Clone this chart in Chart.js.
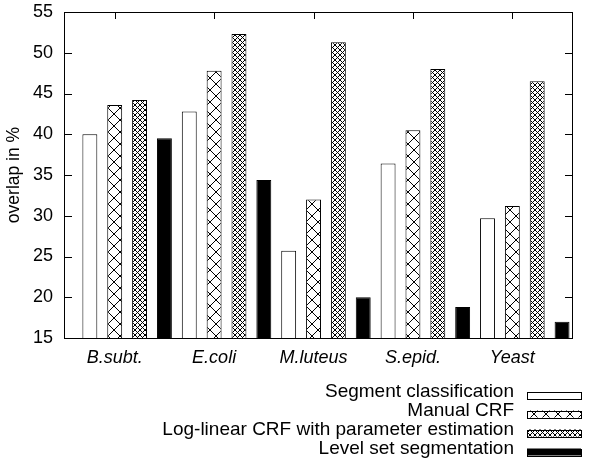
<!DOCTYPE html>
<html lang="en">
<head>
  <meta charset="UTF-8" />
  <title>Overlap per organism</title>
  <script src="https://cdn.jsdelivr.net/npm/chart.js"></script>
  <style>
    * { margin: 0; padding: 0; box-sizing: border-box; }
    body { background: #fff; width: 593px; height: 468px; overflow: hidden; }
    #wrap { position: relative; width: 593px; height: 468px; }
  </style>
</head>
<body>
  <div id="wrap"><canvas id="overlapChart"></canvas></div>

  <script>
    // categories and values (overlap in %)
    const organisms = ['B.subt.', 'E.coli', 'M.luteus', 'S.epid.', 'Yeast'];
    const segmentClassification = [40.0, 42.8, 25.7, 36.4, 29.7];
    const manualCrf = [43.6, 47.8, 32.0, 40.5, 31.2];
    const logLinearCrf = [44.2, 52.3, 51.3, 48.0, 46.5];
    const levelSet = [39.5, 34.4, 20.0, 18.8, 17.0];
    const seriesNames = [
      'Segment classification',
      'Manual CRF',
      'Log-linear CRF with parameter estimation',
      'Level set segmentation'
    ];
    const yTicks = [15, 20, 25, 30, 35, 40, 45, 50, 55];

    const FONT = "'Liberation Sans', Arial, sans-serif";

    // crosshatch fill like gnuplot patterns
    function hatch(size) {
      const c = document.createElement('canvas');
      c.width = size; c.height = size;
      const g = c.getContext('2d');
      g.fillStyle = '#fff';
      g.fillRect(0, 0, size, size);
      g.strokeStyle = '#000';
      g.lineWidth = 1;
      g.beginPath();
      g.moveTo(-1, -1); g.lineTo(size + 1, size + 1);
      g.moveTo(size + 1, -1); g.lineTo(-1, size + 1);
      g.stroke();
      return g.createPattern(c, 'repeat');
    }

    const fills = ['#ffffff', hatch(12), hatch(5), '#000000'];
    const seriesData = [segmentClassification, manualCrf, logLinearCrf, levelSet];

    // tick labels sit half a bar slot left of the group centre
    const labelPos = organisms.map((_, i) => i - 0.125);

    // border with inward ticks (gnuplot style)
    const framePlugin = {
      id: 'frame',
      beforeDatasetsDraw(chart) {
        const { ctx, chartArea: a, scales } = chart;
        ctx.save();
        ctx.strokeStyle = '#000';
        ctx.lineWidth = 1;
        ctx.beginPath();
        yTicks.forEach(v => {
          const y = Math.round(scales.y.getPixelForValue(v)) + 0.5;
          ctx.moveTo(a.left, y); ctx.lineTo(a.left + 7, y);
          ctx.moveTo(a.right, y); ctx.lineTo(a.right - 7, y);
        });
        labelPos.forEach(v => {
          const x = Math.round(scales.x.getPixelForValue(v)) + 0.5;
          ctx.moveTo(x, a.top); ctx.lineTo(x, a.top + 7);
          ctx.moveTo(x, a.bottom); ctx.lineTo(x, a.bottom - 7);
        });
        ctx.stroke();
        ctx.restore();
      },
      afterDatasetsDraw(chart) {
        const { ctx, chartArea: a } = chart;
        ctx.save();
        ctx.strokeStyle = '#000';
        ctx.lineWidth = 1;
        ctx.strokeRect(Math.round(a.left) - 0.5, Math.round(a.top) + 0.5,
                       Math.round(a.right - a.left) + 1, Math.round(a.bottom - a.top));
        ctx.restore();
      }
    };

    // legend: text right aligned, swatch on the right
    const keyPlugin = {
      id: 'key',
      afterDraw(chart) {
        const { ctx } = chart;
        const textRight = 514, boxLeft = 527, boxW = 54, boxH = 7;
        ctx.save();
        ctx.font = '19px ' + FONT;
        ctx.textAlign = 'right';
        ctx.textBaseline = 'middle';
        chart.data.datasets.forEach((ds, i) => {
          const y = 393 + i * 19;
          ctx.fillStyle = '#000';
          ctx.fillText(ds.label, textRight, y - 1);
          ctx.fillStyle = ds.backgroundColor;
          ctx.fillRect(boxLeft, y - boxH / 2 + 2, boxW, boxH);
          ctx.strokeStyle = '#000';
          ctx.lineWidth = 1;
          ctx.strokeRect(boxLeft + 0.5, Math.round(y - boxH / 2 + 2) + 0.5, boxW, boxH);
        });
        ctx.restore();
      }
    };

    const ctx = document.getElementById('overlapChart').getContext('2d');

    new Chart(ctx, {
      type: 'bar',
      data: {
        datasets: seriesData.map((vals, k) => ({
          label: seriesNames[k],
          data: vals.map((v, i) => ({ x: i, y: v })),
          backgroundColor: fills[k],
          borderColor: '#000',
          borderWidth: 1,
          borderSkipped: false
        }))
      },
      plugins: [framePlugin, keyPlugin],
      options: {
        responsive: true,
        maintainAspectRatio: false,
        animation: false,
        devicePixelRatio: 1,
        layout: { padding: { top: 12, right: 21, bottom: 90, left: 0 } },
        datasets: {
          bar: { categoryPercentage: 1.0, barPercentage: 0.6 }
        },
        plugins: {
          legend: { display: false },
          tooltip: { enabled: false }
        },
        scales: {
          x: {
            type: 'linear',
            offset: false,
            min: -0.625,
            max: 4.475,
            grid: { display: false, drawTicks: false },
            border: { display: false },
            afterBuildTicks: scale => {
              scale.ticks = labelPos.map(v => ({ value: v }));
            },
            afterFit: scale => {
              scale.height = 40;
              scale.paddingLeft = 0;
              scale.paddingRight = 0;
            },
            ticks: {
              autoSkip: false,
              maxRotation: 0,
              padding: 9,
              color: '#000',
              font: { family: FONT, size: 18, style: 'italic' },
              callback: (value, index) => organisms[index]
            }
          },
          y: {
            min: 15,
            max: 55,
            grid: { display: false, drawTicks: false },
            border: { display: false },
            afterFit: scale => {
              scale.width = 65;
              scale.paddingTop = 0;
              scale.paddingBottom = 0;
            },
            ticks: {
              stepSize: 5,
              padding: 12,
              color: '#000',
              font: { family: FONT, size: 18 }
            },
            title: {
              display: true,
              text: 'overlap in %',
              color: '#000',
              padding: { top: 4, bottom: 0 },
              font: { family: FONT, size: 17.5 }
            }
          }
        }
      }
    });
  </script>
</body>
</html>
